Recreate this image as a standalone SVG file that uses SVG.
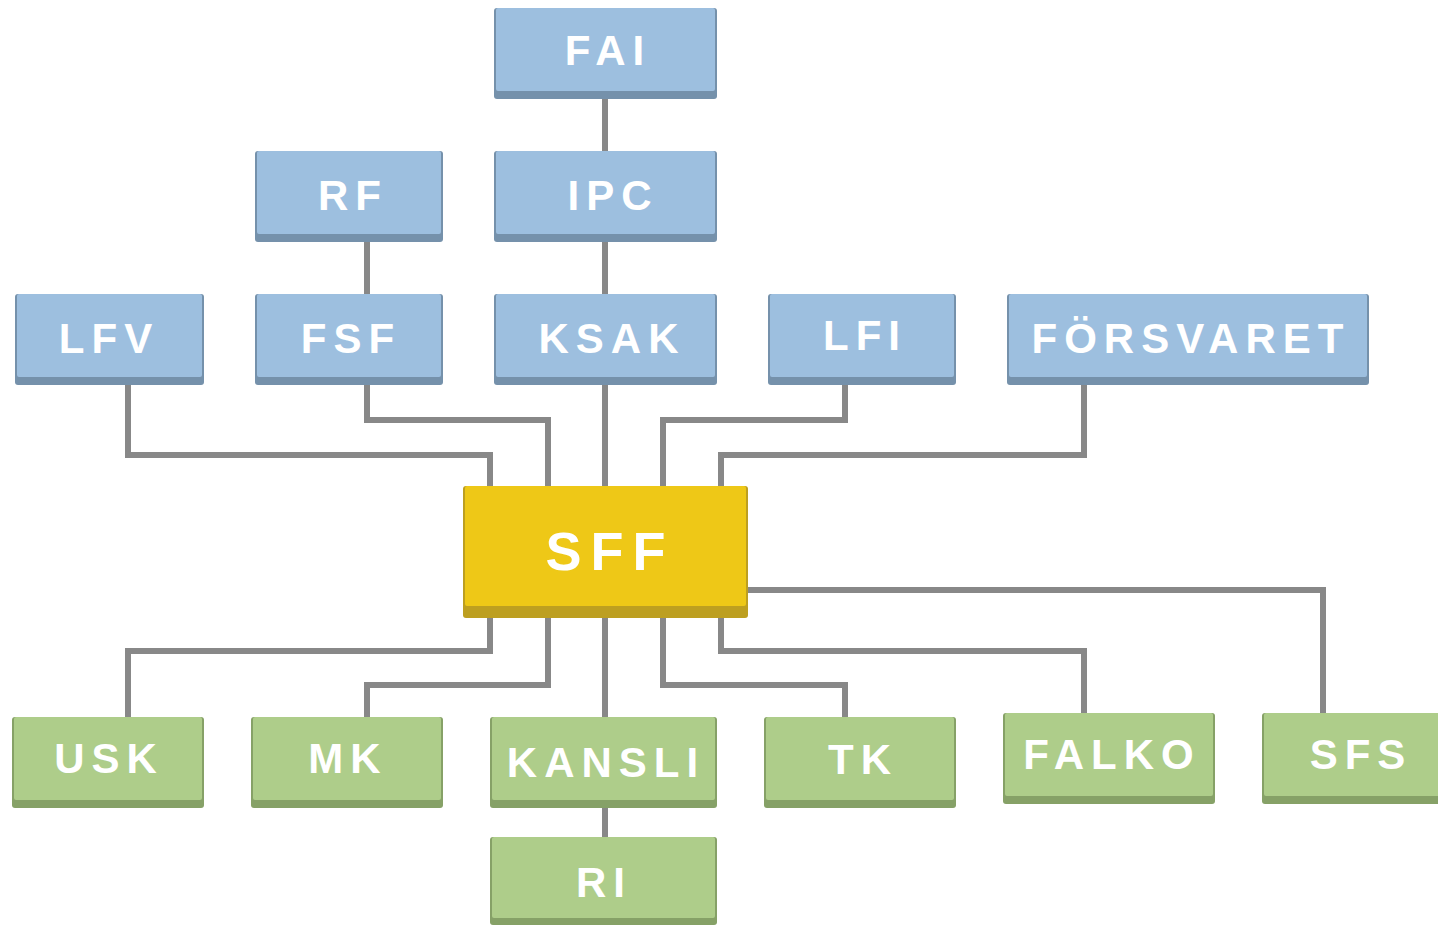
<svg xmlns="http://www.w3.org/2000/svg" width="1438" height="925" viewBox="0 0 1438 925">
<defs>
<style>
.c{fill:none;stroke:#888888;stroke-width:6;stroke-linejoin:miter;stroke-linecap:butt}
.bd{fill:#7591ab}.bf{fill:#9dbfdf}
.gd{fill:#86a167}.gf{fill:#aecd8a}
.yd{fill:#bd9f20}.yf{fill:#eec817}
text{font-family:"Liberation Sans",Arial,sans-serif;font-weight:bold;fill:#ffffff;text-anchor:middle;font-size:42px;letter-spacing:7px}
.big{font-size:54px;letter-spacing:9px}
</style>
</defs>
<rect width="1438" height="925" fill="#ffffff"/>
<g id="connectors">
<path class="c" d="M605 99V151"/>
<path class="c" d="M367 242V294"/>
<path class="c" d="M605 242V294"/>
<path class="c" d="M128 385V455H490V486"/>
<path class="c" d="M367 385V420H548V486"/>
<path class="c" d="M605 385V486"/>
<path class="c" d="M845 385V420H663V486"/>
<path class="c" d="M1084 385V455H721V486"/>
<path class="c" d="M490 618V651H128V717"/>
<path class="c" d="M548 618V685H367V717"/>
<path class="c" d="M605 618V717"/>
<path class="c" d="M663 618V685H845V717"/>
<path class="c" d="M721 618V651H1084V713"/>
<path class="c" d="M748 590H1323V713"/>
<path class="c" d="M605 808V837"/>
</g>
<g id="FAI"><rect class="bd" x="494" y="8" width="223" height="91" rx="3"/><rect class="bf" x="496" y="8" width="219" height="83" rx="2"/><text x="608" y="65">FAI</text></g>
<g id="RF"><rect class="bd" x="255" y="151" width="188" height="91" rx="3"/><rect class="bf" x="257" y="151" width="184" height="83" rx="2"/><text x="353" y="210">RF</text></g>
<g id="IPC"><rect class="bd" x="494" y="151" width="223" height="91" rx="3"/><rect class="bf" x="496" y="151" width="219" height="83" rx="2"/><text x="613" y="210">IPC</text></g>
<g id="LFV"><rect class="bd" x="15" y="294" width="189" height="91" rx="3"/><rect class="bf" x="17" y="294" width="185" height="83" rx="2"/><text x="109" y="353">LFV</text></g>
<g id="FSF"><rect class="bd" x="255" y="294" width="188" height="91" rx="3"/><rect class="bf" x="257" y="294" width="184" height="83" rx="2"/><text x="351" y="353">FSF</text></g>
<g id="KSAK"><rect class="bd" x="494" y="294" width="223" height="91" rx="3"/><rect class="bf" x="496" y="294" width="219" height="83" rx="2"/><text x="612" y="353">KSAK</text></g>
<g id="LFI"><rect class="bd" x="768" y="294" width="188" height="91" rx="3"/><rect class="bf" x="770" y="294" width="184" height="83" rx="2"/><text x="865" y="350">LFI</text></g>
<g id="FORSVARET"><rect class="bd" x="1007" y="294" width="362" height="91" rx="3"/><rect class="bf" x="1009" y="294" width="358" height="83" rx="2"/><text x="1191" y="353">FÖRSVARET</text></g>
<g id="SFF"><rect class="yd" x="463" y="486" width="285" height="132" rx="3"/><rect class="yf" x="465" y="486" width="281" height="120" rx="2"/><text class="big" x="610" y="570">SFF</text></g>
<g id="USK"><rect class="gd" x="12" y="717" width="192" height="91" rx="3"/><rect class="gf" x="14" y="717" width="188" height="83" rx="2"/><text x="109" y="773">USK</text></g>
<g id="MK"><rect class="gd" x="251" y="717" width="192" height="91" rx="3"/><rect class="gf" x="253" y="717" width="188" height="83" rx="2"/><text x="348" y="773">MK</text></g>
<g id="KANSLI"><rect class="gd" x="490" y="717" width="227" height="91" rx="3"/><rect class="gf" x="492" y="717" width="223" height="83" rx="2"/><text x="606" y="777">KANSLI</text></g>
<g id="TK"><rect class="gd" x="764" y="717" width="192" height="91" rx="3"/><rect class="gf" x="766" y="717" width="188" height="83" rx="2"/><text x="863" y="774">TK</text></g>
<g id="FALKO"><rect class="gd" x="1003" y="713" width="212" height="91" rx="3"/><rect class="gf" x="1005" y="713" width="208" height="83" rx="2"/><text x="1112" y="769">FALKO</text></g>
<g id="SFS"><rect class="gd" x="1262" y="713" width="190" height="91" rx="3"/><rect class="gf" x="1264" y="713" width="186" height="83" rx="2"/><text x="1361" y="769">SFS</text></g>
<g id="RI"><rect class="gd" x="490" y="837" width="227" height="88" rx="3"/><rect class="gf" x="492" y="837" width="223" height="81" rx="2"/><text x="604" y="897">RI</text></g>
</svg>
